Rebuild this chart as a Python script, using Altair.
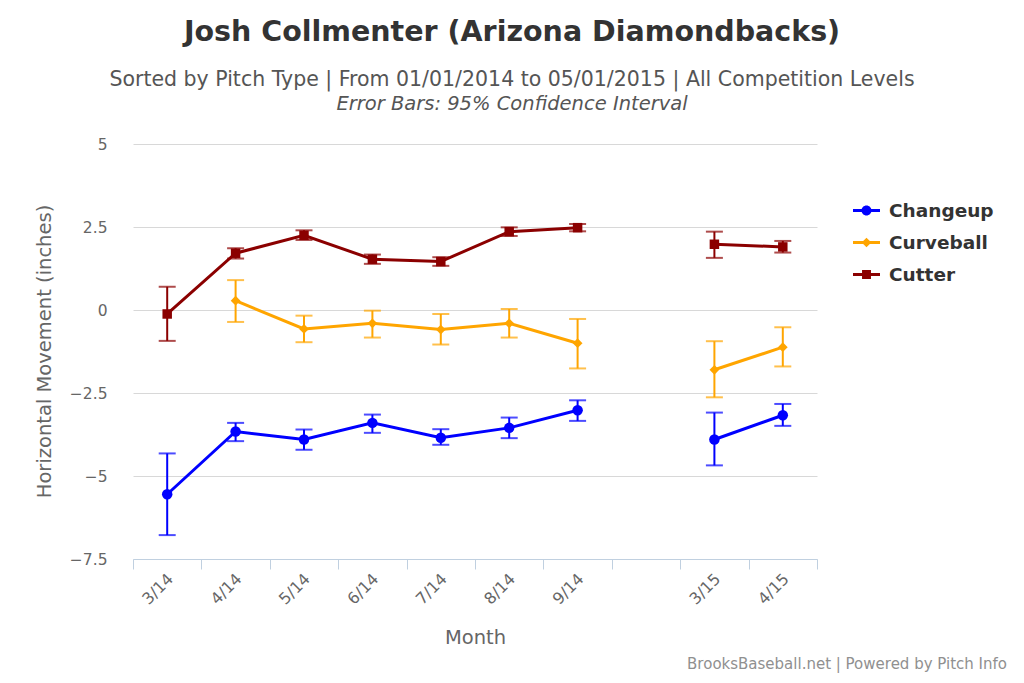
import altair as alt
import pandas as pd

months = ["3/14", "4/14", "5/14", "6/14", "7/14", "8/14", "9/14", "10/14", "3/15", "4/15"]
segments = ["2014", "2014", "2014", "2014", "2014", "2014", "2014", "gap", "2015", "2015"]
pitches = ["Changeup", "Curveball", "Cutter"]
codes = ["CH", "CU", "FC"]
colors = ["#0000FF", "#FFA500", "#8B0000"]

changeup_mean = [-5.55, -3.66, -3.90, -3.40, -3.85, -3.55, -3.02, None, -3.90, -3.17]
changeup_lo = [-6.78, -3.95, -4.21, -3.70, -4.06, -3.86, -3.34, None, -4.68, -3.49]
changeup_hi = [-4.32, -3.40, -3.60, -3.15, -3.59, -3.24, -2.72, None, -3.09, -2.83]

curveball_mean = [None, 0.28, -0.57, -0.40, -0.59, -0.40, -1.00, None, -1.80, -1.12]
curveball_lo = [None, -0.36, -0.97, -0.83, -1.04, -0.83, -1.76, None, -2.63, -1.70]
curveball_hi = [None, 0.90, -0.17, -0.02, -0.12, 0.03, -0.27, None, -0.94, -0.52]

cutter_mean = [-0.12, 1.71, 2.25, 1.53, 1.46, 2.36, 2.48, None, 1.98, 1.90]
cutter_lo = [-0.93, 1.55, 2.11, 1.39, 1.33, 2.23, 2.37, None, 1.57, 1.73]
cutter_hi = [0.70, 1.86, 2.40, 1.67, 1.59, 2.49, 2.59, None, 2.36, 2.08]

y_ticks = [-7.5, -5, -2.5, 0, 2.5, 5]

series = {
    "Changeup": (changeup_mean, changeup_lo, changeup_hi),
    "Curveball": (curveball_mean, curveball_lo, curveball_hi),
    "Cutter": (cutter_mean, cutter_lo, cutter_hi),
}
rows = []
for k, (p, (m, lo, hi)) in enumerate(series.items()):
    for i, mo in enumerate(months):
        if m[i] is None:
            continue
        rows.append({"pitch": p, "code": codes[k], "month": mo, "seg": segments[i],
                     "mean": m[i], "lo": lo[i], "hi": hi[i]})
df = pd.DataFrame(rows)

FONT = "DejaVu Sans"

# legend symbols: line + marker, path coords in [-1, 1]
line_path = "M-1,-0.11L1,-0.11L1,0.11L-1,0.11Z"
legend_paths = [
    line_path + "M0.37,0A0.37,0.37,0,1,1,-0.37,0A0.37,0.37,0,1,1,0.37,0Z",
    line_path + "M0,-0.36L0.36,0L0,0.36L-0.36,0Z",
    line_path + "M-0.33,-0.33L0.33,-0.33L0.33,0.33L-0.33,0.33Z",
]

x_enc = alt.X(
    "month:O",
    sort=months,
    bandPosition=0.5,
    scale=alt.Scale(type="band", domain=months, paddingInner=0, paddingOuter=0),
    axis=alt.Axis(
        title="Month",
        labelExpr="datum.value == '10/14' ? '' : datum.value",
        labelAngle=-45,
        labelAlign="right",
        labelBaseline="middle",
        labelFont=FONT,
        labelFontSize=16,
        labelColor="#666666",
        labelPadding=7,
        labelOffset=3,
        tickBand="extent",
        ticks=True,
        tickSize=10,
        tickColor="#C0D0E0",
        domainColor="#C0D0E0",
        domainWidth=1,
        grid=False,
        titleFont=FONT,
        titleFontSize=19.5,
        titleFontWeight="normal",
        titleColor="#666666",
        titleY=78,
        titleBaseline="middle",
    ),
)

y_scale = alt.Scale(domain=[-7.5, 5], nice=False, zero=False)
y_axis = alt.Axis(
    title="Horizontal Movement (inches)",
    values=y_ticks,
    labelExpr="format(datum.value, '.1~f')",
    domain=False,
    ticks=False,
    grid=True,
    gridColor="#D8D8D8",
    gridWidth=1,
    labelFont=FONT,
    labelFontSize=15.5,
    labelColor="#666666",
    labelPadding=26,
    titleFont=FONT,
    titleFontSize=19.5,
    titleFontWeight="normal",
    titleColor="#666666",
    titleX=-89,
    titleY=207,
    titleBaseline="middle",
    titleAlign="center",
)

# data layers colour by pitch code (own scales, no legend)
stroke_enc = alt.Stroke("code:N", scale=alt.Scale(domain=codes, range=colors), legend=None)
fill_enc = alt.Fill("code:N", scale=alt.Scale(domain=codes, range=colors), legend=None)

base = alt.Chart(df)

lines = base.mark_line(strokeWidth=3).encode(
    x=x_enc,
    y=alt.Y("mean:Q", scale=y_scale, axis=y_axis),
    stroke=stroke_enc,
    detail="seg:N",
)

rules = base.mark_rule(strokeWidth=2).encode(
    x=x_enc, y="lo:Q", y2="hi:Q", stroke=stroke_enc
)
caps_lo = base.mark_tick(thickness=2, size=17, orient="horizontal").encode(
    x=x_enc, y="lo:Q", fill=fill_enc
)
caps_hi = base.mark_tick(thickness=2, size=17, orient="horizontal").encode(
    x=x_enc, y="hi:Q", fill=fill_enc
)

pt_changeup = base.transform_filter("datum.pitch == 'Changeup'").mark_point(
    filled=True, opacity=1, shape="circle", size=110
).encode(x=x_enc, y="mean:Q", fill=fill_enc)
pt_curve = base.transform_filter("datum.pitch == 'Curveball'").mark_point(
    filled=True, opacity=1, shape="diamond", size=95
).encode(x=x_enc, y="mean:Q", fill=fill_enc)
pt_cutter = base.transform_filter("datum.pitch == 'Cutter'").mark_point(
    filled=True, opacity=1, shape="square", size=90
).encode(x=x_enc, y="mean:Q", fill=fill_enc)

leg = alt.Legend(
    title=None,
    orient="none",
    legendX=720,
    legendY=53,
    labelFont=FONT,
    labelFontSize=18.5,
    labelFontWeight="bold",
    labelColor="#333333",
    symbolSize=729,
    symbolStrokeWidth=0,
    rowPadding=9,
    labelOffset=9,
)
# legend-only layer: its points sit far outside the y domain and are clipped away
legend_layer = base.transform_calculate(off="100").mark_point(
    filled=True, opacity=1, clip=True
).encode(
    x=x_enc,
    y="off:Q",
    color=alt.Color("pitch:N", scale=alt.Scale(domain=pitches, range=colors), legend=leg),
    shape=alt.Shape("pitch:N", scale=alt.Scale(domain=pitches, range=legend_paths), legend=leg),
)

note = alt.Chart(pd.DataFrame({"t": ["Error Bars: 95% Confidence Interval"]})).mark_text(
    font=FONT, fontSize=19.5, fontStyle="italic", color="#555555", align="center", baseline="alphabetic"
).encode(x=alt.value(379), y=alt.value(-34), text="t:N")

credits = alt.Chart(pd.DataFrame({"t": ["BrooksBaseball.net | Powered by Pitch Info"]})).mark_text(
    font=FONT, fontSize=15, color="#909090", align="right", baseline="alphabetic"
).encode(x=alt.value(874), y=alt.value(525), text="t:N")

chart = alt.layer(
    lines, rules, caps_lo, caps_hi, pt_changeup, pt_curve, pt_cutter, legend_layer, note, credits
).properties(
    width=684,
    height=415,
    background="white",
    autosize=alt.AutoSizeParams(type="none"),
    padding={"left": 125, "top": 136, "right": 199, "bottom": 114},
    title=alt.TitleParams(
        text="Josh Collmenter (Arizona Diamondbacks)",
        subtitle="Sorted by Pitch Type | From 01/01/2014 to 05/01/2015 | All Competition Levels",
        font=FONT,
        fontSize=28.5,
        fontWeight="bold",
        color="#333333",
        subtitleFont=FONT,
        subtitleFontSize=20.5,
        subtitleColor="#555555",
        subtitlePadding=23,
        anchor="middle",
        frame="group",
        dx=37,
        offset=4,
    ),
).configure_view(stroke=None)

chart.save("out.html", embed_options={"renderer": "svg", "actions": False})
